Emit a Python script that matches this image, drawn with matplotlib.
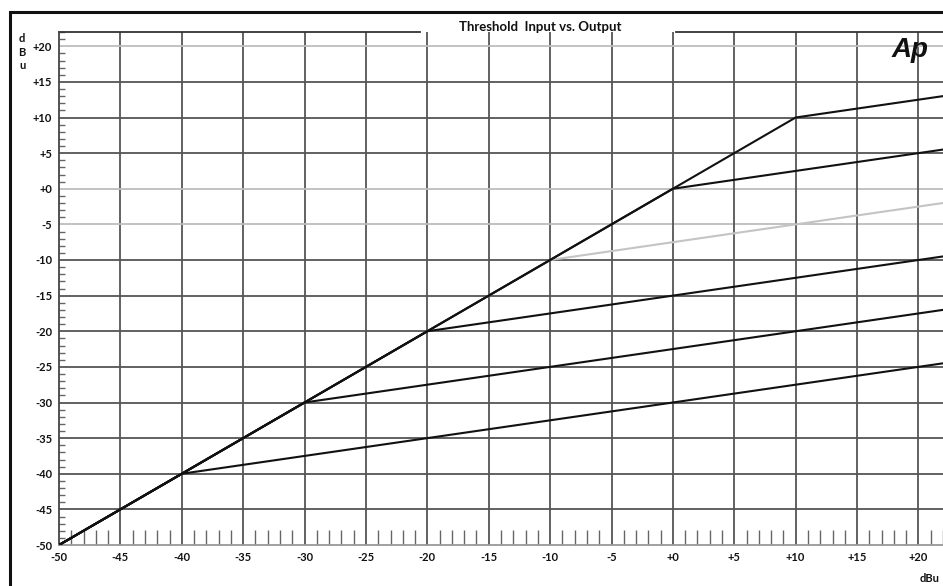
import matplotlib
matplotlib.use("Agg")
import matplotlib.pyplot as plt
from matplotlib.patches import Rectangle
import numpy as np

# ---- data ----
input_start = -50
input_end = 22
thresholds = [-40, -30, -20, -10, 0, 10]
end_outputs = [-24.5, -17.0, -9.5, -2.0, 5.5, 13.0]
curve_colors = ["#111111", "#111111", "#111111", "#c4c4c4", "#111111", "#111111"]
major_ticks = [-50, -45, -40, -35, -30, -25, -20, -15, -10, -5, 0, 5, 10, 15, 20]
x_tick_labels = ["-50", "-45", "-40", "-35", "-30", "-25", "-20", "-15", "-10", "-5",
                 "+0", "+5", "+10", "+15", "+20"]
y_tick_labels = ["-50", "-45", "-40", "-35", "-30", "-25", "-20", "-15", "-10", "-5",
                 "+0", "+5", "+10", "+15", "+20"]
light_grid_levels = [20, 0, -5]

W, H = 943, 586
fig = plt.figure(figsize=(W / 100, H / 100), dpi=100)
FONT = "Lato"

# outer frame
fig.patches.append(Rectangle((10 / W, -0.05), 1.2, 1 - 12 / H + 0.05,
                             transform=fig.transFigure, fill=False,
                             edgecolor="#111111", linewidth=2.2))

ax = fig.add_axes([59 / W, 41 / H, (W - 59) / W, (545 - 32) / H])
ax.set_xlim(input_start, input_end)
ax.set_ylim(input_start, input_end)

# grid
for v in major_ticks:
    if v != -50:
        ax.axvline(v, color="#555555", lw=1.3, zorder=1)
    col = "#bdbdbd" if v in light_grid_levels else "#555555"
    if v != -50:
        ax.axhline(v, color=col, lw=1.3, zorder=1)

# curves
for thr, out, c in zip(thresholds, end_outputs, curve_colors):
    z = 2 if c != "#111111" else 3
    ax.plot([input_start, thr, input_end], [input_start, thr, out],
            color=c, lw=1.5, zorder=z, solid_joinstyle="round")

# spines
for s in ["top", "right"]:
    ax.spines[s].set_visible(False)
ax.spines["left"].set_color("#444444")
ax.spines["left"].set_linewidth(1.3)
ax.spines["bottom"].set_color("#999999")
ax.spines["bottom"].set_linewidth(1.3)

# top border with gap for title
ax.plot([0, 0.408], [1, 1], transform=ax.transAxes, color="#333333", lw=1.3, clip_on=False)
ax.plot([0.698, 1.0], [1, 1], transform=ax.transAxes, color="#333333", lw=1.3, clip_on=False)

# ticks
ax.set_xticks(major_ticks)
ax.set_xticklabels(x_tick_labels)
ax.set_yticks(major_ticks)
ax.set_yticklabels(y_tick_labels)
ax.set_xticks([v for v in range(-50, 23) if v % 5 != 0], minor=True)
ax.set_yticks([v for v in range(-50, 23) if v % 5 != 0], minor=True)
ax.tick_params(axis="both", which="major", length=0, labelsize=8, colors="#111111")
ax.tick_params(axis="x", which="major", pad=5)
ax.tick_params(axis="y", which="major", pad=5)
ax.tick_params(axis="x", which="minor", direction="in", length=11, width=1.0, color="#666666")
ax.tick_params(axis="y", which="minor", direction="in", length=4.5, width=1.0, color="#666666")
for lab in ax.get_xticklabels() + ax.get_yticklabels():
    lab.set_fontfamily(FONT)
    lab.set_fontweight("bold")

# labels
fig.text(540 / W, 1 - 27 / H, "Threshold  Input vs. Output", ha="center", va="center",
         fontsize=9.5, fontweight="bold", family=FONT, color="#111111")
fig.text(22 / W, 1 - 52 / H, "d\nB\nu", ha="center", va="center", fontsize=8,
         fontweight="bold", family=FONT, linespacing=1.25, color="#111111")
fig.text(930 / W, 1 - 578 / H, "dBu", ha="center", va="center", fontsize=8,
         fontweight="bold", family=FONT, color="#111111")
fig.text(910 / W, 1 - 50 / H, "Ap", ha="center", va="center", fontsize=20,
         fontweight="bold", style="italic", family="Liberation Sans", color="#111111")

fig.savefig("out.png", dpi=100)
